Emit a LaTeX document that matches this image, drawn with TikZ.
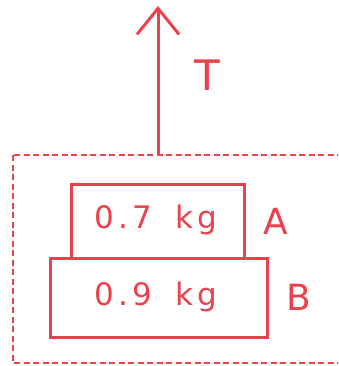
\documentclass[tikz,border=0pt]{standalone}
\usepackage{fontspec}
\setmainfont{DejaVu Sans}
\newfontfamily\handfont[LetterSpace=14,WordSpace=1.6]{DejaVu Sans}
\newfontfamily\capfont{DejaVu Sans}
\usetikzlibrary{arrows.meta}
\definecolor{pen}{RGB}{236,64,76}
\tikzset{
  box/.style={draw=pen, line width=3pt, minimum height=0pt, inner sep=0pt},
  lbl/.style={text=pen, font=\handfont\fontsize{31}{31}\selectfont},
  letter/.style={text=pen, font=\capfont\fontsize{36}{36}\selectfont},
}
\begin{document}
\begin{tikzpicture}[x=1pt,y=-1pt]
\useasboundingbox (0,0) rectangle (338,366);
\clip (0,0) rectangle (338,366);
\draw[pen, line width=2.4pt, dash pattern=on 6pt off 3.5pt] (13,155) rectangle (350,363);
\node[box, minimum width=173pt, minimum height=74pt] (A) at (157.5,221) {};
\node[box, minimum width=217pt, minimum height=79pt] (B) at (158.5,297.5) {};
\node[lbl] (mA) at (156,220) {0.7 kg};
\node[lbl] (mB) at (156,297) {0.9 kg};
\node[letter] (la) at (276,221) {A};
\node[letter] (lb) at (299,297) {B};
\coordinate (top) at (158,6);
\coordinate (base) at (158,155);
\draw[pen, line width=3pt, -{Straight Barb[length=26pt,width=42pt,line width=3pt]}] (base) -- (top);
\node[letter, font=\capfont\fontsize{42}{42}\selectfont] (T) at (207,75) {T};
\end{tikzpicture}
\end{document}
